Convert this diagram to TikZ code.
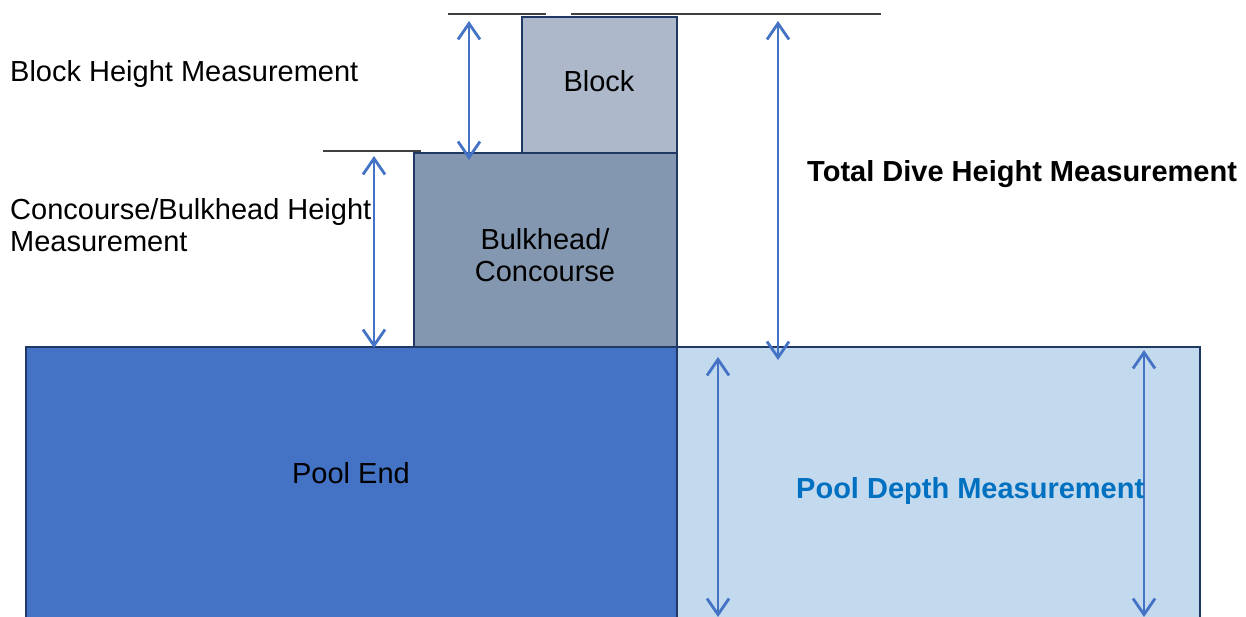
\documentclass[tikz,border=0pt]{standalone}
\usepackage{fontspec}
\setmainfont{Liberation Sans}
\usetikzlibrary{arrows.meta}
\definecolor{blockfill}{HTML}{ADB9CA}
\definecolor{bulkfill}{HTML}{8497B0}
\definecolor{poolfill}{HTML}{4472C4}
\definecolor{depthfill}{HTML}{C3D9EE}
\definecolor{edgecol}{HTML}{1F3864}
\definecolor{arrowcol}{HTML}{4472C4}
\definecolor{depthtext}{HTML}{0070C0}
\definecolor{rulecol}{HTML}{404040}
\begin{document}
\begin{tikzpicture}[x=1pt,y=-1pt,
  box/.style={draw=edgecol,line width=2.6pt},
  dimline/.style={draw=arrowcol,line width=2.8pt,{Straight Barb[length=16pt,width=22pt,line width=2.8pt]}-{Straight Barb[length=16pt,width=22pt,line width=2.8pt]}},
  refline/.style={draw=rulecol,line width=2pt},
  lbl/.style={font=\fontsize{29}{32}\selectfont,inner sep=0pt},
  leftlbl/.style={lbl,anchor=west,align=left}]
\useasboundingbox (0,0) rectangle (1246,617);
\clip (0,0) rectangle (1246,617);
% shapes
\path[box,fill=depthfill] (677,347) rectangle (1200,640);
\path[box,fill=poolfill] (26,347) rectangle (677,640);
\path[box,fill=bulkfill] (414,153) rectangle (677,347);
\path[box,fill=blockfill] (522,17) rectangle (677,153);
% labels in shapes
\node[lbl] (block) at (599,81) {Block};
\node[lbl,align=center] (bulk) at (545,255) {Bulkhead/\\Concourse};
\node[lbl] (pool) at (351,473) {Pool End};
% reference lines
\coordinate (r1a) at (448,14); \coordinate (r1b) at (546,14);
\coordinate (r2a) at (571,14); \coordinate (r2b) at (881,14);
\coordinate (r3a) at (323,151); \coordinate (r3b) at (421,151);
\draw[refline] (r1a) -- (r1b);
\draw[refline] (r2a) -- (r2b);
\draw[refline] (r3a) -- (r3b);
% dimension arrows
\coordinate (bh1) at (469,21); \coordinate (bh2) at (469,160);
\coordinate (ch1) at (374,156); \coordinate (ch2) at (374,348);
\coordinate (td1) at (778,21); \coordinate (td2) at (778,360);
\coordinate (pl1) at (718,357); \coordinate (pl2) at (718,617);
\coordinate (pr1) at (1144,350); \coordinate (pr2) at (1144,617);
\draw[dimline] (bh1) -- (bh2);
\draw[dimline] (ch1) -- (ch2);
\draw[dimline] (td1) -- (td2);
\draw[dimline] (pl1) -- (pl2);
\draw[dimline] (pr1) -- (pr2);
% measurement labels
\node[leftlbl] (bhl) at (10,74) {Block Height Measurement};
\node[leftlbl] (chl) at (10,225) {Concourse/Bulkhead Height\\Measurement};
\node[leftlbl,font=\fontsize{29}{32}\selectfont\bfseries] (tdl) at (807,174) {Total Dive Height Measurement};
\node[leftlbl,font=\fontsize{29}{32}\selectfont\bfseries,text=depthtext] (pdl) at (796,491) {Pool Depth Measurement};
\end{tikzpicture}
\end{document}
